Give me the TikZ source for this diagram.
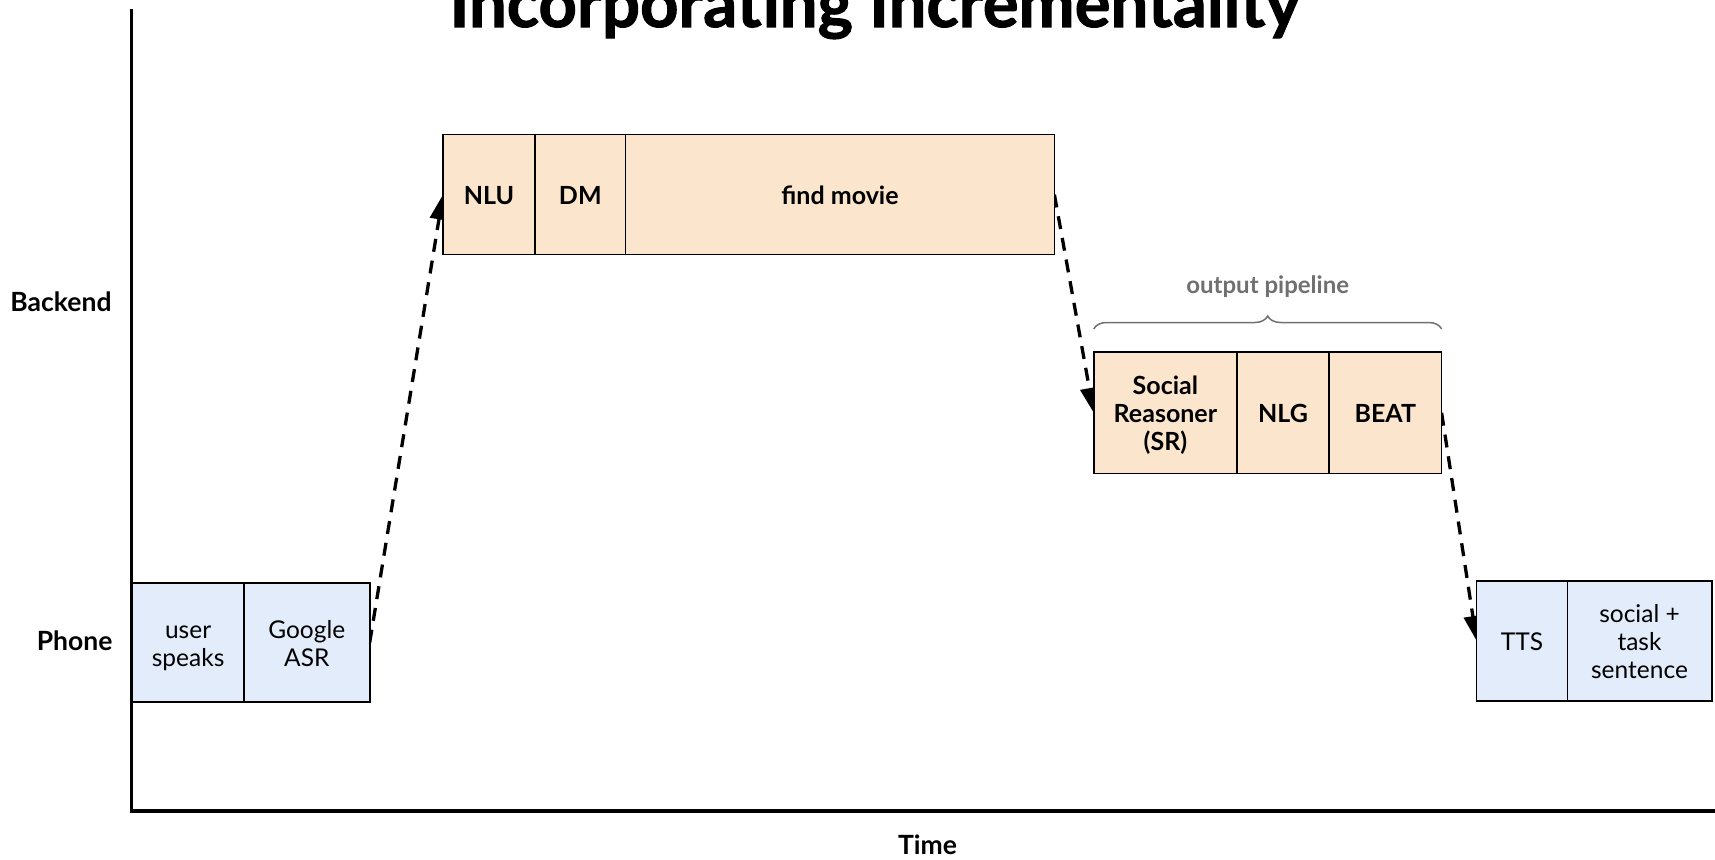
\documentclass[tikz,border=0pt]{standalone}
\usepackage{fontspec}
\setmainfont{Lato}
\newfontfamily\headfont[FakeBold=1.5]{Lato}
\usetikzlibrary{arrows.meta,decorations.pathreplacing,backgrounds}
\definecolor{phonefill}{HTML}{E3ECFA}
\definecolor{backfill}{HTML}{FCE5CD}
\definecolor{bracegray}{HTML}{707070}
% struts for the first and the last line of a stage label
\newcommand\fst{\rule{0pt}{26pt}}
\newcommand\lst{\rule[-6pt]{0pt}{6pt}}
\begin{document}
\begin{tikzpicture}[x=1pt,y=-1pt,
  every node/.style={font=\fontsize{24.5}{28}\selectfont},
  stage/.style={draw=black,line width=1.6pt,inner sep=0pt,outer sep=0pt,align=center},
  phonebox/.style={stage,fill=phonefill,minimum height=119pt},
  backbox/.style={stage,fill=backfill,minimum height=120pt,font=\fontsize{25}{28}\selectfont\bfseries},
  axislabel/.style={font=\fontsize{26.5}{30}\selectfont\bfseries},
  flow/.style={line width=3.3pt,dash pattern=on 13pt off 9pt,-{Triangle[length=25pt,width=18pt]}},
  axisline/.style={line width=3.5pt}
]
\useasboundingbox (0,0) rectangle (1715,859);

% title
\node[anchor=base,font=\fontsize{67}{70}\headfont\bfseries] (title) at (875,27) {Incorporating Incrementality};

% axes
\coordinate (origin) at (131.5,811);
\coordinate (ytop) at (131.5,9);
\coordinate (xend) at (1716,811);
\draw[axisline] (ytop) -- (origin) -- (xend);

% axis labels
\node[axislabel] (backend) at (61,302) {Backend};
\node[axislabel,anchor=east] (phone) at (116,641) {Phone};
\node[axislabel] (time) at (927.5,845) {Time};

% phone side, start
\node[phonebox,minimum width=111.6pt] (user) at (188.1,642.5) {\fst user\\speaks\lst};
\node[phonebox,minimum width=125.8pt] (asr) at (306.8,642.5) {\fst Google\\ASR\lst};

% backend, understanding
\node[backbox,minimum width=92pt] (nlu) at (489,194.6) {\fst NLU\lst};
\node[backbox,minimum width=90.6pt] (dm) at (580.3,194.6) {\fst DM\lst};
\node[backbox,minimum width=428.8pt] (find) at (840,194.6) {\fst find movie\lst};

% backend, output pipeline
\node[backbox,minimum height=121.6pt,minimum width=143.3pt] (sr) at (1165.4,412.8) {\fst Social\\Reasoner\\(SR)\lst};
\node[backbox,minimum height=121.6pt,minimum width=92pt] (nlg) at (1283,412.8) {\fst NLG\lst};
\node[backbox,minimum height=121.6pt,minimum width=112.6pt] (beat) at (1385.3,412.8) {\fst BEAT\lst};

% phone side, end
\node[phonebox,minimum height=120.2pt,minimum width=90.7pt] (tts) at (1522,640.9) {\fst TTS\lst};
\node[phonebox,minimum height=120.2pt,minimum width=144.4pt] (sent) at (1639.5,640.9) {\fst social +\\task\\sentence\lst};

% brace over the output pipeline
\draw[bracegray,line width=1.5pt,decorate,decoration={brace,amplitude=13pt,aspect=0.5}]
  ([yshift=23pt]sr.north west) -- ([yshift=23pt]beat.north east);
\node[text=bracegray,font=\fontsize{24}{28}\selectfont\bfseries] (pipe) at (1267.7,287) {output pipeline};

% data flow, drawn behind the stage boxes
\begin{pgfonlayer}{background}
\draw[flow] (asr.east) -- (nlu.west);
\draw[flow] (find.east) -- (sr.west);
\draw[flow] (beat.east) -- (tts.west);
\end{pgfonlayer}
\end{tikzpicture}
\end{document}
